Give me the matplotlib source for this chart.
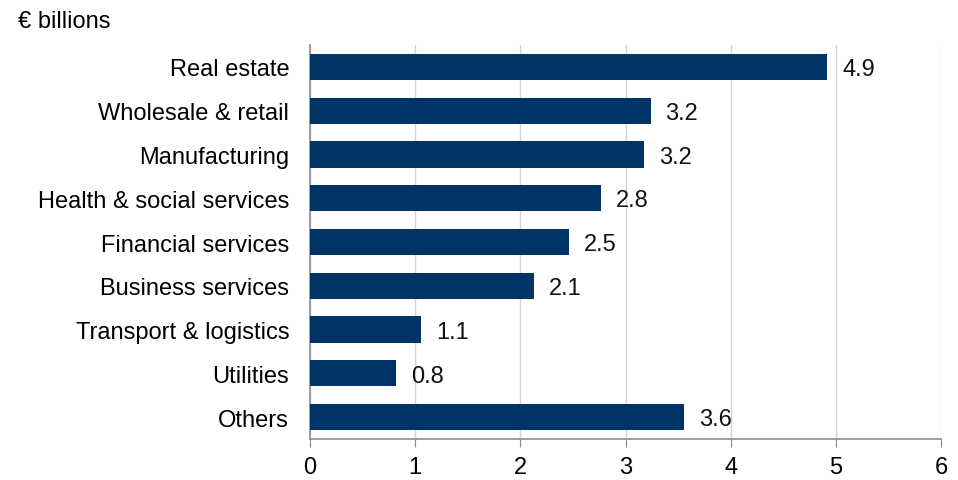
import matplotlib.pyplot as plt

plt.rcParams['font.family'] = ['Liberation Sans', 'DejaVu Sans']

# 부문별 금액 (€ billions)
sectors = ['Real estate', 'Wholesale & retail', 'Manufacturing', 'Health & social services',
           'Financial services', 'Business services', 'Transport & logistics', 'Utilities', 'Others']
values = [4.92, 3.24, 3.18, 2.77, 2.46, 2.13, 1.06, 0.82, 3.56]

bar_color = '#003366'
axis_color = '#8c8c8c'
fs = 17

fig = plt.figure(figsize=(9.58, 4.81), dpi=100)
ax = fig.add_axes([0.3236, 0.0852, 0.6587, 0.8192])

pos = list(range(len(sectors)))
ax.barh(pos, values, height=0.6, color=bar_color, zorder=3)

for p, v in zip(pos, values):
    ax.text(v + 0.14, p + 0.05, f'{v:.1f}', va='center', ha='left', fontsize=fs, color='#111111')

ax.set_xlim(0, 6)
ax.set_ylim(len(sectors) - 0.5, -0.5)
ax.set_xticks(range(0, 7))
ax.set_yticks(pos)
ax.set_yticklabels(sectors)

ax.grid(axis='x', color='#d4d4d4', linewidth=1, zorder=0)
for side in ['top', 'right']:
    ax.spines[side].set_visible(False)
for side in ['left', 'bottom']:
    ax.spines[side].set_color(axis_color)
    ax.spines[side].set_linewidth(1.2)

ax.tick_params(axis='x', length=6, color=axis_color, labelsize=fs, pad=6, direction='out')
ax.tick_params(axis='y', length=0, labelsize=fs, pad=15)

fig.text(18 / 958, 1 - 22 / 481, '€ billions', fontsize=fs, va='center', ha='left')

fig.savefig('out.png', dpi=100)
